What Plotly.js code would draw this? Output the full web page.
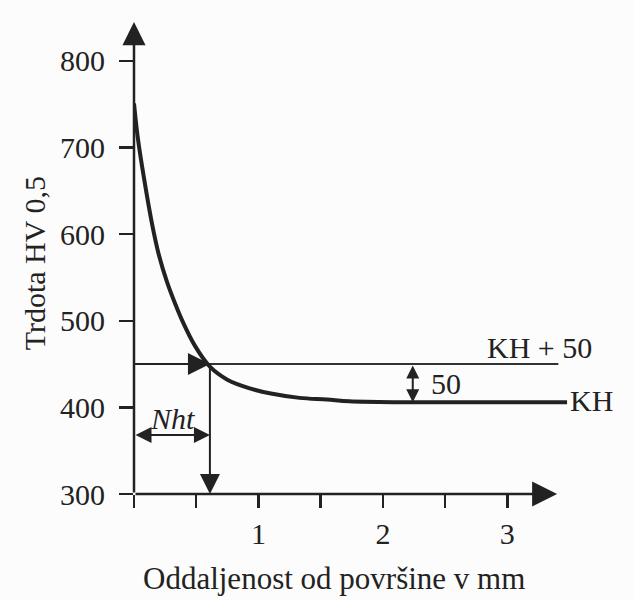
<!DOCTYPE html>
<html>
<head>
<meta charset="utf-8">
<script src="https://cdn.plot.ly/plotly-3.0.1.min.js"></script>
<style>
  html, body { margin: 0; padding: 0; background: #fcfcfc; }
  #chart { width: 634px; height: 600px; }
</style>
</head>
<body>
<div id="chart"></div>
<script>
// Hardness profile
const depth    = [0, 0.03, 0.08, 0.145, 0.2, 0.265, 0.33, 0.385, 0.49, 0.61, 0.75, 0.93, 1.1, 1.33, 1.55, 1.73, 2.14, 2.6, 3.0, 3.48];
const hardness = [751, 712, 665, 612, 576, 545, 520, 501, 471, 447, 432, 422, 416, 411, 409, 407, 406, 406, 406, 406];

// Reference levels
const limitX = [0, 3.41];        // KH + 50 line
const limitY = [450, 450];
const khLevel = 406;             // KH
const nhtDepth = 0.61;           // Nht
const nhtArrowLevel = 368;
const deltaX = 2.24;             // position of "50" dimension

// Axes
const xTicks = [0, 0.5, 1, 1.5, 2, 2.5, 3];
const xTickText = ['', '', '1', '', '2', '', '3'];
const yTicks = [300, 400, 500, 600, 700, 800];
const xMin = 0, xArrowEnd = 3.4, yMin = 300, yArrowEnd = 845;

const FONT = 'Liberation Serif, Times New Roman, serif';
const INK = '#222222';
const FS = 30;

const traces = [
  { x: limitX, y: limitY, mode: 'lines', line: { color: '#333', width: 2 }, hoverinfo: 'skip' },
  { x: depth, y: hardness, mode: 'lines', line: { color: INK, width: 4, shape: 'spline', smoothing: 1 }, hoverinfo: 'skip' }
];

function arrow(x, y, ax, ay, size, width, both) {
  const a = { x: x, y: y, ax: ax, ay: ay, xref: 'x', yref: 'y', axref: 'x', ayref: 'y',
    text: '', showarrow: true, arrowhead: 2, arrowsize: size, arrowwidth: width, arrowcolor: INK, standoff: 0 };
  if (both) { a.arrowside = 'end+start'; a.startarrowhead = 2; a.startarrowsize = size; a.startstandoff = 0; }
  return a;
}
function label(text, x, y, xanchor) {
  return { x: x, y: y, xref: 'x', yref: 'y', text: text, showarrow: false,
    xanchor: xanchor, yanchor: 'middle', font: { family: FONT, size: FS, color: INK } };
}

const annotations = [
  arrow(xArrowEnd, yMin, xMin, yMin, 2, 2.5),                 // x axis
  arrow(xMin, yArrowEnd, xMin, yMin, 1.85, 2.5),              // y axis
  arrow(nhtDepth, limitY[0], xMin, limitY[0], 2.2, 2),        // arrow to intersection
  arrow(nhtDepth, yMin, nhtDepth, limitY[0], 2.0, 2),         // down to axis
  arrow(nhtDepth, nhtArrowLevel, xMin, nhtArrowLevel, 1.6, 2, true), // Nht
  arrow(deltaX, khLevel, deltaX, limitY[0], 1.3, 2, true),    // 50
  label('<i>Nht</i>', 0.31, 387, 'center'),
  label('50', 2.37, 428, 'left'),
  label('KH + 50', 3.26, 469, 'center'),
  label('KH', 3.49, 408, 'left'),
  { xref: 'paper', yref: 'paper', x: -0.223, y: 0.489, text: 'Trdota HV 0,5', textangle: -90,
    showarrow: false, xanchor: 'center', yanchor: 'middle', font: { family: FONT, size: FS, color: INK } },
  { xref: 'paper', yref: 'paper', x: 0.446, y: -0.178, text: 'Oddaljenost od površine v mm',
    showarrow: false, xanchor: 'center', yanchor: 'middle', font: { family: FONT, size: 31, color: INK } }
];

const layout = {
  width: 634, height: 600,
  margin: { l: 134, r: 52, t: 22, b: 106 },
  paper_bgcolor: '#fcfcfc', plot_bgcolor: '#fcfcfc',
  showlegend: false,
  font: { family: FONT, color: INK },
  xaxis: { range: [0, 3.6], tickvals: xTicks, ticktext: xTickText, ticks: 'outside', ticklen: 13, tickwidth: 2.5,
    tickcolor: INK, showgrid: false, zeroline: false, showline: false, fixedrange: true,
    tickfont: { family: FONT, size: FS, color: INK } },
  yaxis: { range: [300, 845], tickvals: yTicks, ticks: 'outside', ticklen: 14, tickwidth: 2.5,
    tickcolor: INK, showgrid: false, zeroline: false, showline: false, fixedrange: true,
    ticklabelstandoff: 8,
    tickfont: { family: FONT, size: FS, color: INK } },
  annotations: annotations
};

Plotly.newPlot('chart', traces, layout, { displayModeBar: false, staticPlot: true });
</script>
</body>
</html>
